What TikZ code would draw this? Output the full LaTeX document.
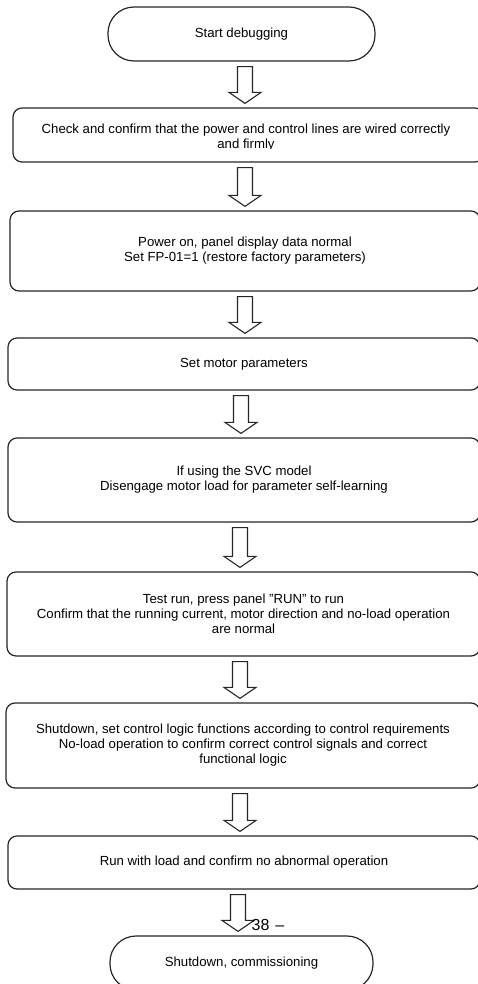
\documentclass[tikz,border=0pt]{standalone}
\usepackage{fontspec}
\setmainfont{Liberation Sans}
\usetikzlibrary{calc,positioning}

% hollow block arrow between two nodes, at a given x
\newcommand{\flowarrow}[3]{%
  \coordinate (ax) at (#3,0);
  \coordinate (fa) at (ax |- #1.south);
  \coordinate (fb) at (ax |- #2.north);
  \draw[hollow] ($(fa)+(-7.5,5)$) -- ($(fb)+(-7.5,-15)$) -- ($(fb)+(-16,-15)$)
    -- ($(fb)+(0,-4)$) -- ($(fb)+(16,-15)$) -- ($(fb)+(7.5,-15)$)
    -- ($(fa)+(7.5,5)$) -- cycle;}

\begin{document}
\begin{tikzpicture}[x=1pt,y=-1pt]
% Define styles
\tikzstyle{terminal}=[draw=black!85, line width=1.2pt, rounded corners=26pt, inner sep=0pt, align=center, font=\fontsize{13.2pt}{15pt}\selectfont]
\tikzstyle{stepbox}=[draw=black!85, line width=1.2pt, rounded corners=9pt, inner sep=0pt, align=center, font=\fontsize{13.2pt}{15pt}\selectfont]
\tikzstyle{hollow}=[draw=black!85, line width=1.1pt, fill=white, line join=miter]

\useasboundingbox (0,0) rectangle (478,984);

% Start
\node[terminal, minimum width=267pt, minimum height=54pt] (start) at (241.5,34) {Start debugging};

% Steps
\node[stepbox, minimum width=471pt, minimum height=54pt] (wiring) at (248.5,135) {};
\begin{scope}
\clip (0,108) rectangle (478,149);
\node[align=center, font=\fontsize{13.2pt}{15pt}\selectfont] (wiringtext) at (246,137.5) {Check and confirm that the power and control lines are wired correctly\\and firmly};
\end{scope}

\node[stepbox, minimum width=470pt, minimum height=80pt] (poweron) at (245,251) {Power on, panel display data normal\\Set FP-01=1 (restore factory parameters)};

\node[stepbox, minimum width=472pt, minimum height=52pt] (motor) at (244,364) {Set motor parameters};

\node[stepbox, minimum width=472pt, minimum height=84pt] (selflearn) at (244,480) {If using the SVC model\\Disengage motor load for parameter self-learning};

\node[stepbox, minimum width=473pt, minimum height=84pt] (testrun) at (243.5,614) {Test run, press panel \symbol{34}RUN\symbol{34} to run\\Confirm that the running current, motor direction and no-load operation\\are normal};

\node[stepbox, minimum width=474pt, minimum height=85pt] (logic) at (243,745.5) {Shutdown, set control logic functions according to control requirements\\No-load operation to confirm correct control signals and correct\\functional logic};

\node[stepbox, minimum width=472pt, minimum height=53pt] (loadrun) at (244,862.5) {Run with load and confirm no abnormal operation};

% End
\node[terminal, minimum width=263pt, minimum height=54pt] (finish) at (241.5,963) {Shutdown, commissioning};

% Arrows
\flowarrow{start}{wiring}{245}
\flowarrow{wiring}{poweron}{245}
\flowarrow{poweron}{motor}{245}
\flowarrow{motor}{selflearn}{241}
\flowarrow{selflearn}{testrun}{240}
\flowarrow{testrun}{logic}{240}
\flowarrow{logic}{loadrun}{240}
\flowarrow{loadrun}{finish}{238}

% Page number
\node[font=\fontsize{16pt}{18pt}\selectfont] (pageno) at (268,925) {38\hspace{6pt}–};

\end{tikzpicture}
\end{document}
